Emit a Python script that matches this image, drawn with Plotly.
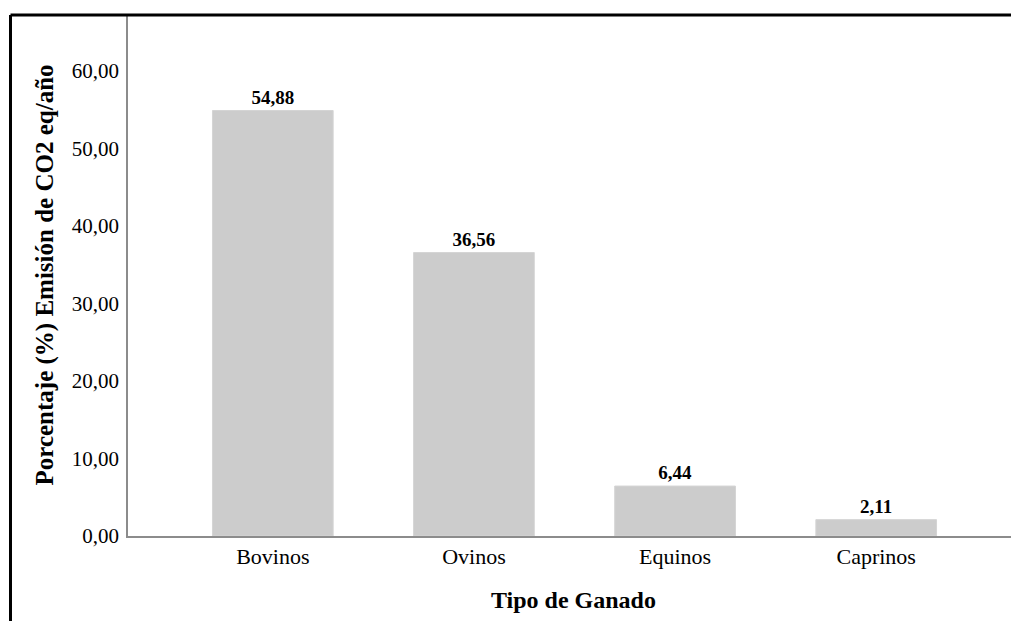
import plotly.graph_objects as go

categories = ["Bovinos", "Ovinos", "Equinos", "Caprinos"]
values = [54.88, 36.56, 6.44, 2.11]
y_ticks = [0, 10, 20, 30, 40, 50, 60]

# page body has an 8px margin; figure sized so the plot lands where the reference has it
W, H = 1011, 613
L, R, T, B = 120, 0, 7, 85
pw = W - L - R
ph = H - T - B

fig = go.Figure()
fig.add_trace(go.Bar(
    x=categories, y=values, width=0.6,
    marker=dict(color="#cccccc", line=dict(color="#d4d4d4", width=1)),
    texttemplate="<b>%{y:.2f}</b>", textposition="outside",
    textfont=dict(family="Liberation Serif", size=19, color="#000"),
    cliponaxis=False,
))

fig.update_layout(
    width=W, height=H,
    margin=dict(l=L, r=R, t=T, b=B, autoexpand=False),
    paper_bgcolor="white", plot_bgcolor="white",
    separators=",.",
    showlegend=False,
    font=dict(family="Liberation Serif", color="#000", size=16),
)
fig.update_xaxes(
    range=[-0.72, 3.71], showline=True, linecolor="#8c8c8c", linewidth=1.5,
    ticks="", showgrid=False, zeroline=False,
    tickfont=dict(size=22),
)
fig.update_yaxes(
    range=[0, 67.2], showline=True, linecolor="#8c8c8c", linewidth=1.5,
    ticks="", showgrid=False, zeroline=False,
    tickvals=y_ticks, tickformat=".2f", tickfont=dict(size=21),
    ticklabelstandoff=3,
)

fig.add_annotation(text="<b>Tipo de Ganado</b>", xref="paper", yref="paper",
                   x=0.5, y=-(592 - (H - B)) / ph, xanchor="center", yanchor="middle",
                   showarrow=False, font=dict(size=24))
fig.add_annotation(text="<b>Porcentaje (%) Emisión de CO2 eq/año</b>", xref="paper", yref="paper",
                   x=(36 - L) / pw, y=0.5, xanchor="center", yanchor="middle", textangle=-90,
                   showarrow=False, font=dict(size=25))

# Outer frame (left and top edges)
x0 = (2.5 - L) / pw
fig.add_shape(type="line", xref="paper", yref="paper", x0=x0, x1=1.02,
              y0=1, y1=1, line=dict(color="black", width=3))
fig.add_shape(type="line", xref="paper", yref="paper", x0=x0, x1=x0,
              y0=1, y1=-(B + 10) / ph, line=dict(color="black", width=3))

fig.write_html("out.html")
